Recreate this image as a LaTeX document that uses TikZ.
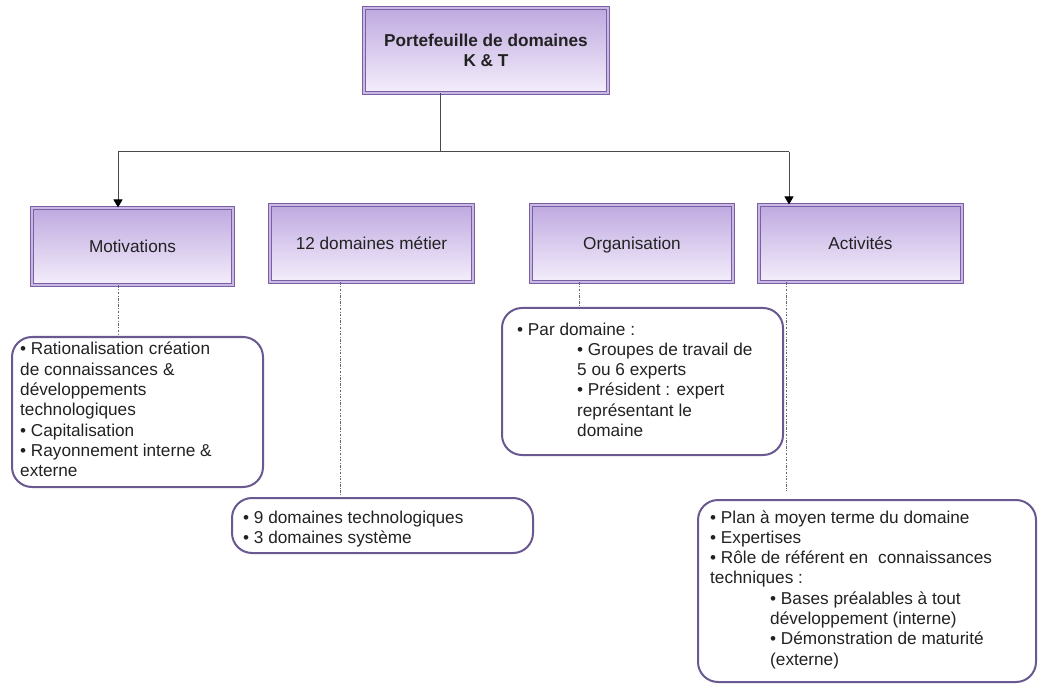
\documentclass[tikz,border=0pt]{standalone}
\usepackage{fontspec}
\setmainfont{Liberation Sans}
\usetikzlibrary{arrows.meta}
\definecolor{bord}{HTML}{7860A2}
\definecolor{dbl}{HTML}{C9B8E6}
\definecolor{ftop}{HTML}{BFA9E0}
\definecolor{fbot}{HTML}{F4EEFB}
\definecolor{rbord}{HTML}{6A5890}
\definecolor{txt}{HTML}{222222}
\definecolor{lin}{HTML}{4A4A4A}
\newcommand{\blt}{•\ }
\newcommand{\ind}{\hspace*{60pt}}
\newcommand{\xs}{\hspace{0.3em}}
\tikzset{
  hbox/.style={draw=bord, double=dbl, double distance=1.6pt, line width=1pt,
    top color=ftop, bottom color=fbot, inner sep=0pt, text=txt,
    font=\fontsize{17.2}{20}\selectfont, align=center},
  hone/.style={text height=14.4pt, text depth=2pt},
  tbox/.style={draw=rbord, line width=2pt, rounded corners=20pt, fill=white, inner sep=0pt},
  ttext/.style={anchor=base west, inner sep=0pt, text=txt},
  conn/.style={draw=lin, line width=1pt},
  arr/.style={conn, -{Triangle[width=9pt,length=8pt,color=black]}},
  dd/.style={draw=black!60, line width=0.8pt, dash pattern=on 2.5pt off 1.5pt on 0.8pt off 1.5pt}
}
\newcommand{\tx}[2]{\parbox[t]{#1}{\fontsize{17.2}{20.3}\selectfont\raggedright #2}}
\begin{document}
\begin{tikzpicture}[x=1pt,y=-1pt]
\useasboundingbox (0,0) rectangle (1038,684);
% header boxes
\node[hbox, minimum width=244pt, minimum height=85pt] (top) at (486,50.5)
  {\textbf{Portefeuille de domaines}\\\textbf{K \& T}};
\node[hbox, hone, minimum width=201pt, minimum height=77pt] (mot) at (132.5,246.5) {Motivations};
\node[hbox, hone, minimum width=203pt, minimum height=77pt] (dom) at (371.5,243.5) {12 domaines\xs métier};
\node[hbox, hone, minimum width=202pt, minimum height=77pt] (org) at (632,243.5) {Organisation};
\node[hbox, hone, minimum width=203pt, minimum height=77pt] (act) at (860.5,243.5) {Activités};
% text boxes
\node[tbox, minimum width=251pt, minimum height=150pt] (motT) at (137.5,412) {};
\node[tbox, minimum width=301pt, minimum height=55pt] (domT) at (382.5,525.5) {};
\node[tbox, minimum width=281pt, minimum height=147pt] (orgT) at (642.5,381.5) {};
\node[tbox, minimum width=338pt, minimum height=182pt] (actT) at (867,591) {};
% texts
\node[ttext] (motX) at (20,355) {\tx{240pt}{\blt Rationalisation\xs création\\de connaissances\xs \&\\développements\\technologiques\\\blt Capitalisation\\\blt Rayonnement interne \&\\externe}};
\node[ttext] (domX) at (243,523) {\tx{285pt}{\blt 9 domaines technologiques\\\blt 3 domaines système}};
\node[ttext] (orgX) at (517,335) {\tx{265pt}{\blt Par domaine :\\\ind\blt Groupes de travail de\\\ind 5 ou 6 experts\\\ind\blt Président : expert\\\ind représentant le\\\ind domaine}};
\node[ttext] (actX) at (710,523) {\tx{325pt}{\blt Plan à moyen terme du domaine\\\blt Expertises\\\blt Rôle de référent en\xs\ connaissances\\techniques :\\\ind\blt Bases préalables à tout\\\ind développement (interne)\\\ind\blt Démonstration de maturité\\\ind (externe)}};
% connectors
\coordinate (j) at (440,152);
\coordinate (jl) at (118,152);
\coordinate (jr) at (789,152);
\draw[conn] (top.south -| j) -- (j);
\draw[conn] (jl) -- (jr);
\draw[arr] (jl) -- (jl |- mot.north);
\draw[arr] (jr) -- (jr |- act.north);
% dotted links
\coordinate (d1) at (118,0);
\coordinate (d2) at (340,0);
\coordinate (d3) at (579,0);
\coordinate (d4) at (786,0);
\draw[dd] (d1 |- mot.south) -- (d1 |- motT.north);
\draw[dd] (d2 |- dom.south) -- (d2 |- domT.north);
\draw[dd] (d3 |- org.south) -- (d3 |- orgT.north);
\draw[dd] (d4 |- act.south) -- ([yshift=8pt]d4 |- actT.north);
\end{tikzpicture}
\end{document}
